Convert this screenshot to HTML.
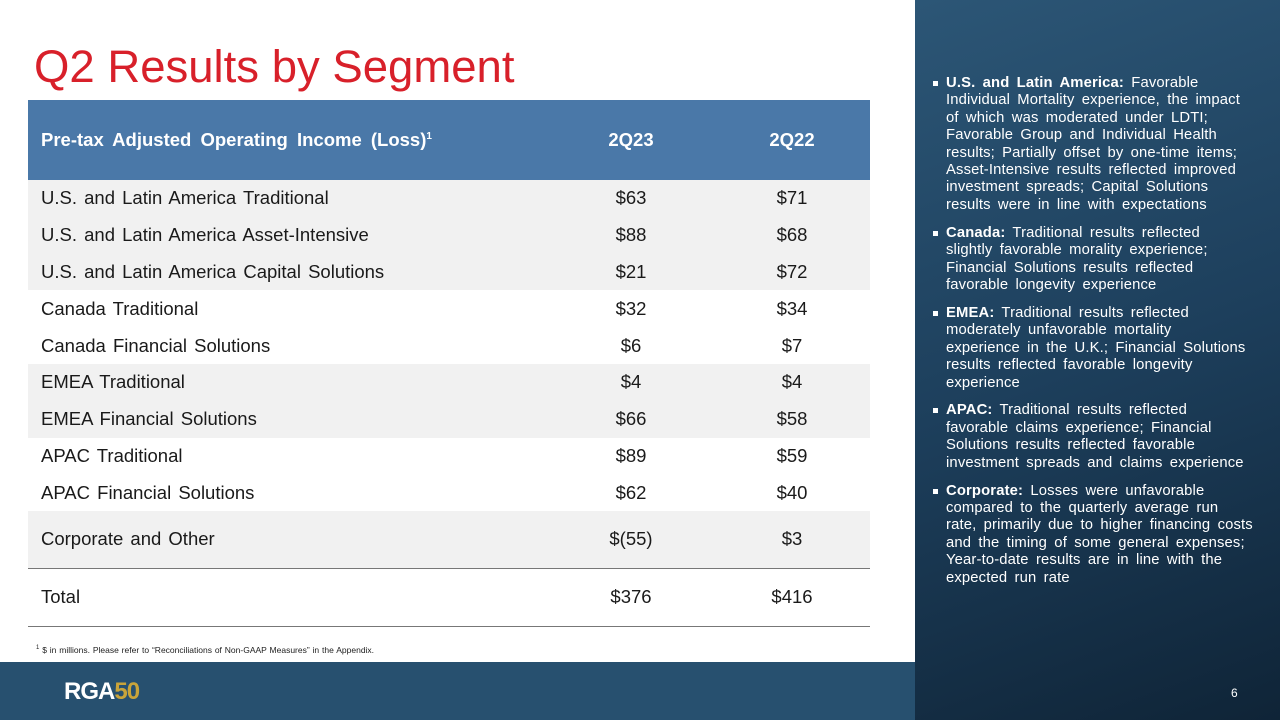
<!DOCTYPE html>
<html><head><meta charset="utf-8"><style>
*{margin:0;padding:0;box-sizing:border-box}
body{width:1280px;height:720px;position:relative;overflow:hidden;background:#fff;font-family:"Liberation Sans",Arial,sans-serif}
#title{position:absolute;left:34px;top:41px;font-size:45.5px;color:#d8202a;font-weight:normal}
#tbl{position:absolute;left:28px;top:100px;width:842px;border-collapse:collapse;font-size:18.5px;color:#1a1a1a;word-spacing:2px}
#tbl td,#tbl th{padding:0}
#tbl th{background:#4a78a8;color:#fff;height:80px;font-weight:bold;font-size:18.5px;word-spacing:4px}
#tbl td.l,#tbl th.l{text-align:left;padding-left:13px}
#tbl td.c,#tbl th.c{text-align:center}
#tbl tr.r td{height:36.8px}
.g td{background:#f1f1f1}
#foot{position:absolute;left:36px;top:645px;font-size:8.5px;color:#222;word-spacing:0.5px}
#panel{position:absolute;left:915px;top:0;width:365px;height:720px;background:linear-gradient(160deg,#2c5676 0%,#1d3f5c 50%,#0f2437 100%)}
#bar{position:absolute;left:0;top:662px;width:915px;height:58px;background:#27506f}
#logo{position:absolute;left:64px;top:678px;font-size:24px;font-weight:bold;color:#fff;letter-spacing:-1px}
#logo span{color:#c9a43a}
#pg{position:absolute;left:1231px;top:686px;font-size:12px;color:#fff}
ul{position:absolute;left:930px;top:75px;width:345px;list-style:none;color:#fff;font-size:14.8px;line-height:17.4px;white-space:nowrap;word-spacing:3px;letter-spacing:0.15px}
li{position:relative;padding-left:16px;margin-bottom:10.5px}
li:before{content:"";position:absolute;left:3px;top:6px;width:5px;height:5px;background:#fff}
</style></head><body>
<div id="title">Q2 Results by Segment</div>
<table id="tbl">
<tr><th class="l" style="width:520px">Pre-tax Adjusted Operating Income (Loss)<sup style="font-size:10px">1</sup></th><th class="c" style="width:166px">2Q23</th><th class="c">2Q22</th></tr>
<tr class="r g"><td class="l">U.S. and Latin America Traditional</td><td class="c">$63</td><td class="c">$71</td></tr>
<tr class="r g"><td class="l">U.S. and Latin America Asset-Intensive</td><td class="c">$88</td><td class="c">$68</td></tr>
<tr class="r g"><td class="l">U.S. and Latin America Capital Solutions</td><td class="c">$21</td><td class="c">$72</td></tr>
<tr class="r"><td class="l">Canada Traditional</td><td class="c">$32</td><td class="c">$34</td></tr>
<tr class="r"><td class="l">Canada Financial Solutions</td><td class="c">$6</td><td class="c">$7</td></tr>
<tr class="r g"><td class="l">EMEA Traditional</td><td class="c">$4</td><td class="c">$4</td></tr>
<tr class="r g"><td class="l">EMEA Financial Solutions</td><td class="c">$66</td><td class="c">$58</td></tr>
<tr class="r"><td class="l">APAC Traditional</td><td class="c">$89</td><td class="c">$59</td></tr>
<tr class="r"><td class="l">APAC Financial Solutions</td><td class="c">$62</td><td class="c">$40</td></tr>
<tr class="g"><td class="l" style="height:57px;border-bottom:1.5px solid #777">Corporate and Other</td><td class="c" style="border-bottom:1.5px solid #777">$(55)</td><td class="c" style="border-bottom:1.5px solid #777">$3</td></tr>
<tr><td class="l" style="height:58px;border-bottom:1.5px solid #777">Total</td><td class="c" style="border-bottom:1.5px solid #777">$376</td><td class="c" style="border-bottom:1.5px solid #777">$416</td></tr>
</table>
<div id="foot"><sup style="font-size:6px">1</sup> $ in millions. Please refer to “Reconciliations of Non-GAAP Measures” in the Appendix.</div>
<div id="bar"></div>
<div id="logo">RGA<span>50</span></div>
<div id="panel"></div>
<ul>
<li><b>U.S. and Latin America:</b> Favorable<br>Individual Mortality experience, the impact<br>of which was moderated under LDTI;<br>Favorable Group and Individual Health<br>results; Partially offset by one-time items;<br>Asset-Intensive results reflected improved<br>investment spreads; Capital Solutions<br>results were in line with expectations</li>
<li><b>Canada:</b> Traditional results reflected<br>slightly favorable morality experience;<br>Financial Solutions results reflected<br>favorable longevity experience</li>
<li><b>EMEA:</b> Traditional results reflected<br>moderately unfavorable mortality<br>experience in the U.K.; Financial Solutions<br>results reflected favorable longevity<br>experience</li>
<li><b>APAC:</b> Traditional results reflected<br>favorable claims experience; Financial<br>Solutions results reflected favorable<br>investment spreads and claims experience</li>
<li><b>Corporate:</b> Losses were unfavorable<br>compared to the quarterly average run<br>rate, primarily due to higher financing costs<br>and the timing of some general expenses;<br>Year-to-date results are in line with the<br>expected run rate</li>
</ul>
<div id="pg">6</div>
</body></html>
